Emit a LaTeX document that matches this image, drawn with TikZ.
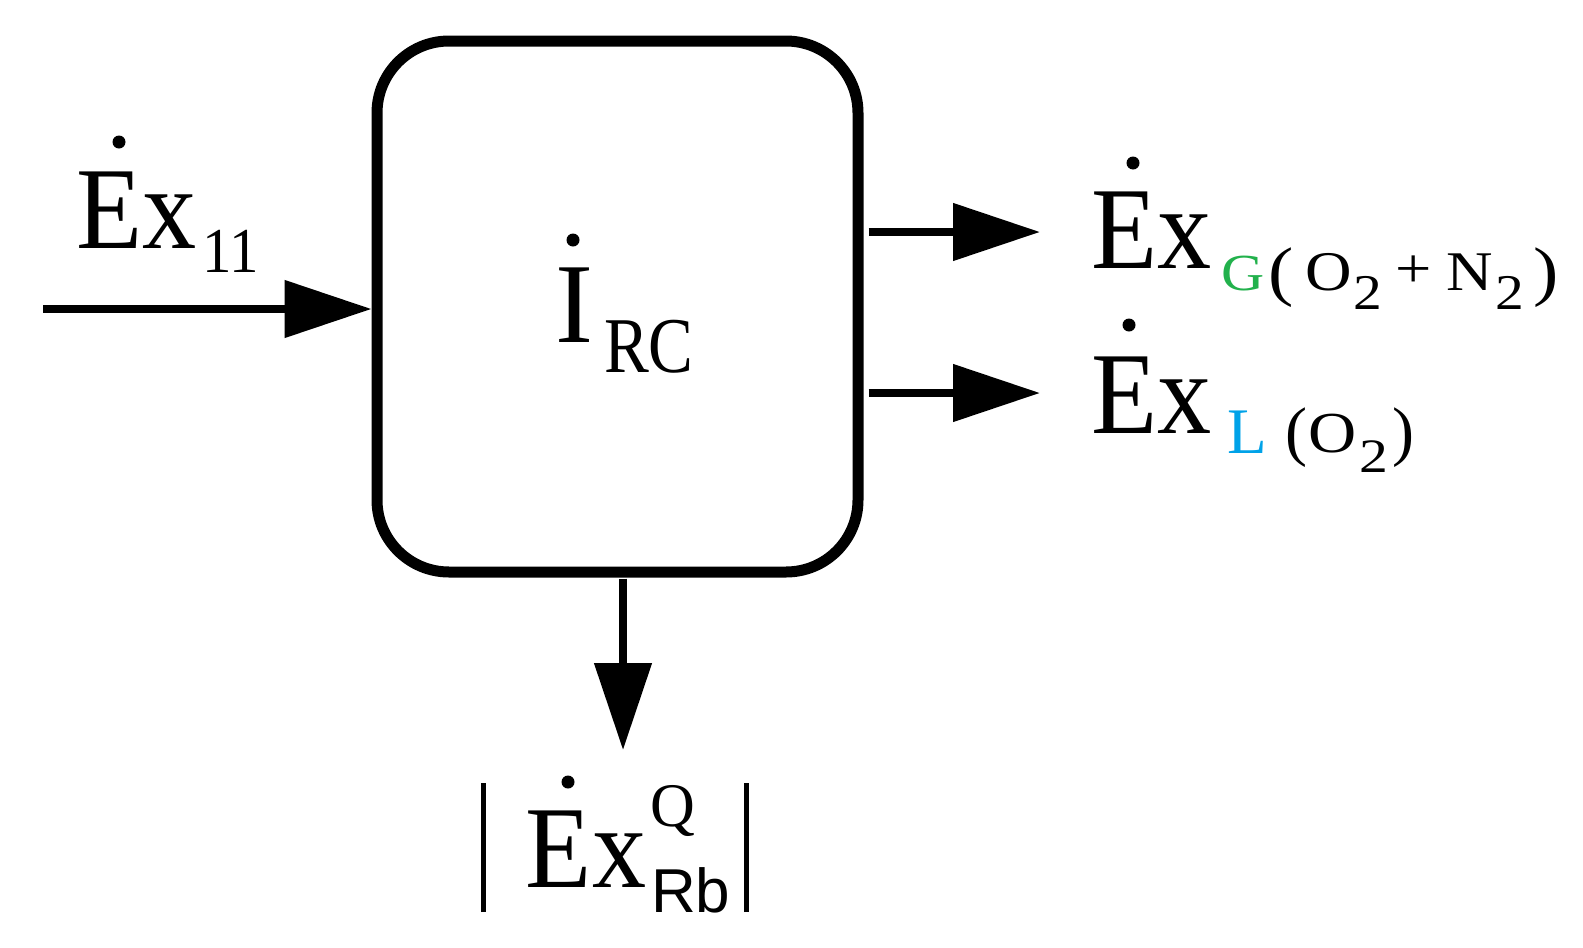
\documentclass[tikz,border=0pt]{standalone}
\usepackage{fontspec}
\setmainfont{Liberation Serif}
\newfontfamily\arialfont{Liberation Sans}
\usepackage{xcolor}
\usepackage{graphicx}
\usetikzlibrary{arrows.meta}
\definecolor{gas-green}{RGB}{34,177,76}
\definecolor{liquid-blue}{RGB}{0,162,232}
\newcommand{\fsz}[1]{\fontsize{#1}{#1}\selectfont}
\newcommand{\ExText}{\scalebox{0.925}[1]{Ex}}
\tikzset{
    rc-box/.style = {draw, line width=11pt, rectangle, rounded corners=72pt, minimum width=481pt, minimum height=531pt, inner sep=0pt},
    flow-arrow/.style = {line width=8pt, -{Triangle[length=87pt, width=56pt]}},
    exergy-label/.style = {inner sep=0pt, anchor=base west, font=\fsz{117}},
    rate-dot/.style = {fill=black},
}

\begin{document}
\begin{tikzpicture}[x=1pt, y=-1pt]
\useasboundingbox (0,0) rectangle (1583,948);
\node [rc-box] (rc) at (617.5,306.5) {};
\node [exergy-label, font=\fsz{114}] (irc) at (555,342) {I\hspace{11pt}\raisebox{-30pt}{\scalebox{0.85}[1]{\fsz{79}RC}}};
% streams in and out
\node [exergy-label] (ex11) at (76,248) {\ExText\hspace{6pt}\raisebox{-24pt}{\scalebox{0.92}[1]{\fsz{64}11}}};
\node [exergy-label] (exG) at (1091,268) {\ExText\hspace{10pt}\raisebox{-22pt}{\scalebox{1.15}[1]{\fsz{52}\textcolor{gas-green}{G}\hspace{3pt}\raisebox{-3pt}{\fsz{66}(}\hspace{11pt}\fsz{56}O\hspace{0.8pt}\raisebox{-19pt}{\fsz{50}2}\hspace{12pt}\raisebox{3pt}{+}\hspace{12pt}N\hspace{2.3pt}\raisebox{-19pt}{\fsz{50}2}\hspace{8pt}\raisebox{-3pt}{\fsz{66})}}}};
\node [exergy-label] (exL) at (1091,433) {\ExText\hspace{16.4pt}\raisebox{-20pt}{\fsz{65}\textcolor{liquid-blue}{L}}\hspace{18pt}\raisebox{-20pt}{\fsz{66}(}\hspace{1pt}\raisebox{-19pt}{\scalebox{1.15}[1]{\fsz{58}O}}\hspace{2.5pt}\raisebox{-39pt}{\scalebox{1.2}[1]{\fsz{48}2}}\hspace{5pt}\raisebox{-20pt}{\fsz{66})}};
\node [exergy-label] (exQ) at (481,887) {\rule[-25pt]{5pt}{129pt}\hspace{39.7pt}\ExText\hspace{5pt}\makebox[0pt][l]{\hspace{-1pt}\raisebox{61pt}{\fsz{62}Q}}\raisebox{-25pt}{\fsz{62}\arialfont Rb}\hspace{14pt}\rule[-25pt]{5pt}{129pt}};
% rate dots over E and I
\fill [rate-dot] (irc.base west) ++(18,-102) circle [radius=6.5pt];
\fill [rate-dot] (ex11.base west) ++(43,-106) circle [radius=6.5pt];
\fill [rate-dot] (exG.base west) ++(42,-105) circle [radius=6.5pt];
\fill [rate-dot] (exL.base west) ++(38,-108) circle [radius=6.5pt];
\fill [rate-dot] (exQ.base west) ++(87,-105) circle [radius=6.5pt];
\coordinate (in) at (43,309);
\coordinate (gtip) at (1040,232);
\coordinate (ltip) at (1040,393);
\coordinate (qtip) at (623,750);
\draw [flow-arrow] (in) -- (in -| rc.west);
\draw [flow-arrow] (rc.east |- gtip) ++(5,0) -- (gtip);
\draw [flow-arrow] (rc.east |- ltip) ++(5,0) -- (ltip);
\draw [flow-arrow] (rc.south -| qtip) ++(0,1) -- (qtip);
\end{tikzpicture}
\end{document}
